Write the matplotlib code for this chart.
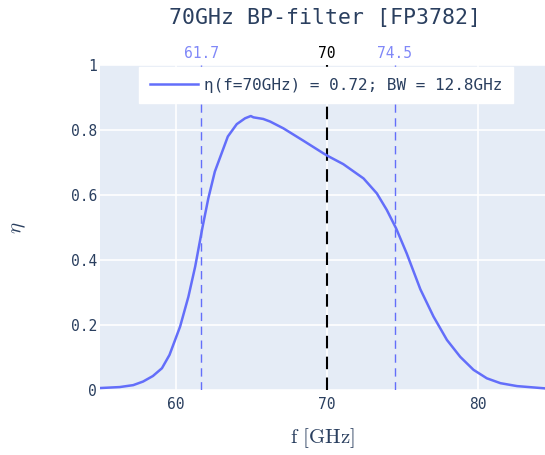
import matplotlib
matplotlib.use("Agg")
import matplotlib.pyplot as plt

freq = [55.0, 56.3, 57.2, 57.85, 58.5, 59.1, 59.6, 60.3, 60.85, 61.3, 61.78, 62.17, 62.6,
        63.46, 64.05, 64.6, 64.98, 65.15, 65.8, 66.26, 67.14, 68.46, 69.79, 70.08, 71.1,
        72.44, 73.32, 73.98, 74.6, 75.3, 76.2, 77.07, 77.96, 78.84, 79.72, 80.6, 81.5,
        82.6, 84.45]
eta = [0.006, 0.009, 0.015, 0.026, 0.043, 0.067, 0.108, 0.195, 0.287, 0.38, 0.50, 0.59,
       0.672, 0.78, 0.818, 0.836, 0.843, 0.839, 0.834, 0.826, 0.805, 0.767, 0.728, 0.72,
       0.695, 0.651, 0.605, 0.554, 0.497, 0.42, 0.31, 0.226, 0.154, 0.102, 0.062, 0.036,
       0.021, 0.012, 0.005]

f_center = 70
f_low, f_high = 61.7, 74.5
eta_center = 0.72
bandwidth = 12.8
title = "70GHz BP-filter [FP3782]"
x_ticks = [60, 70, 80]
y_ticks = [0, 0.2, 0.4, 0.6, 0.8, 1]
y_ticklabels = ["0", "0.2", "0.4", "0.6", "0.8", "1"]
top_ticklabels = ["61.7", "70", "74.5"]

blue = "#636efa"
txt = "#2a3f5f"
mono = "DejaVu Sans Mono"
plt.rcParams["mathtext.fontset"] = "cm"

fig = plt.figure(figsize=(5.45, 4.55), dpi=100)
ax = fig.add_axes([100/545, 1-390/455, 445/545, 325/455])
ax.set_facecolor("#e5ecf6")
for s in ax.spines.values():
    s.set_visible(False)

ax.set_xlim(55, 84.45)
ax.set_ylim(0, 1)
ax.set_xticks(x_ticks)
ax.set_yticks(y_ticks)
ax.set_yticklabels(y_ticklabels)
ax.grid(color="white", lw=1.2)
ax.set_axisbelow(True)
ax.tick_params(length=0, labelsize=10.5, labelcolor=txt)
ax.tick_params(axis="x", pad=5)
ax.tick_params(axis="y", pad=2)
for lab in ax.get_xticklabels() + ax.get_yticklabels():
    lab.set_family(mono)

ax.axvline(f_low, color=blue, lw=1, ls=(0, (6, 4)))
ax.axvline(f_high, color=blue, lw=1, ls=(0, (6, 4)))
ax.axvline(f_center, color="black", lw=1.5, ls=(0, (6, 4)))

ax.plot(freq, eta, color=blue, lw=1.8,
        label=f"η(f={f_center}GHz) = {eta_center}; BW = {bandwidth}GHz")

leg = ax.legend(loc="upper center", bbox_to_anchor=(226/445, 1.0),
                frameon=True, fancybox=False, framealpha=1, edgecolor="white",
                prop={"family": mono, "size": 11.5}, handlelength=3.0,
                borderpad=0.65, handletextpad=0.4, borderaxespad=0.15)
for t in leg.get_texts():
    t.set_color(txt)

top = ax.secondary_xaxis("top")
top.set_xticks([f_low, f_center, f_high])
top.set_xticklabels(top_ticklabels)
top.tick_params(length=0, labelsize=10.5, pad=3)
for s in top.spines.values():
    s.set_visible(False)
for lab, c in zip(top.get_xticklabels(), ["#8088f8", "black", "#8088f8"]):
    lab.set_color(c)
    lab.set_family(mono)

ax.set_xlabel(r"$\mathrm{f\ [GHz]}$", fontsize=15, color=txt, labelpad=10)
ax.set_ylabel(r"$\eta$", fontsize=15, color=txt, labelpad=31)

fig.text(325/545, 1-18/455, title, ha="center", va="center",
         family=mono, fontsize=15.5, color=txt)

fig.savefig("out.png", dpi=100)
